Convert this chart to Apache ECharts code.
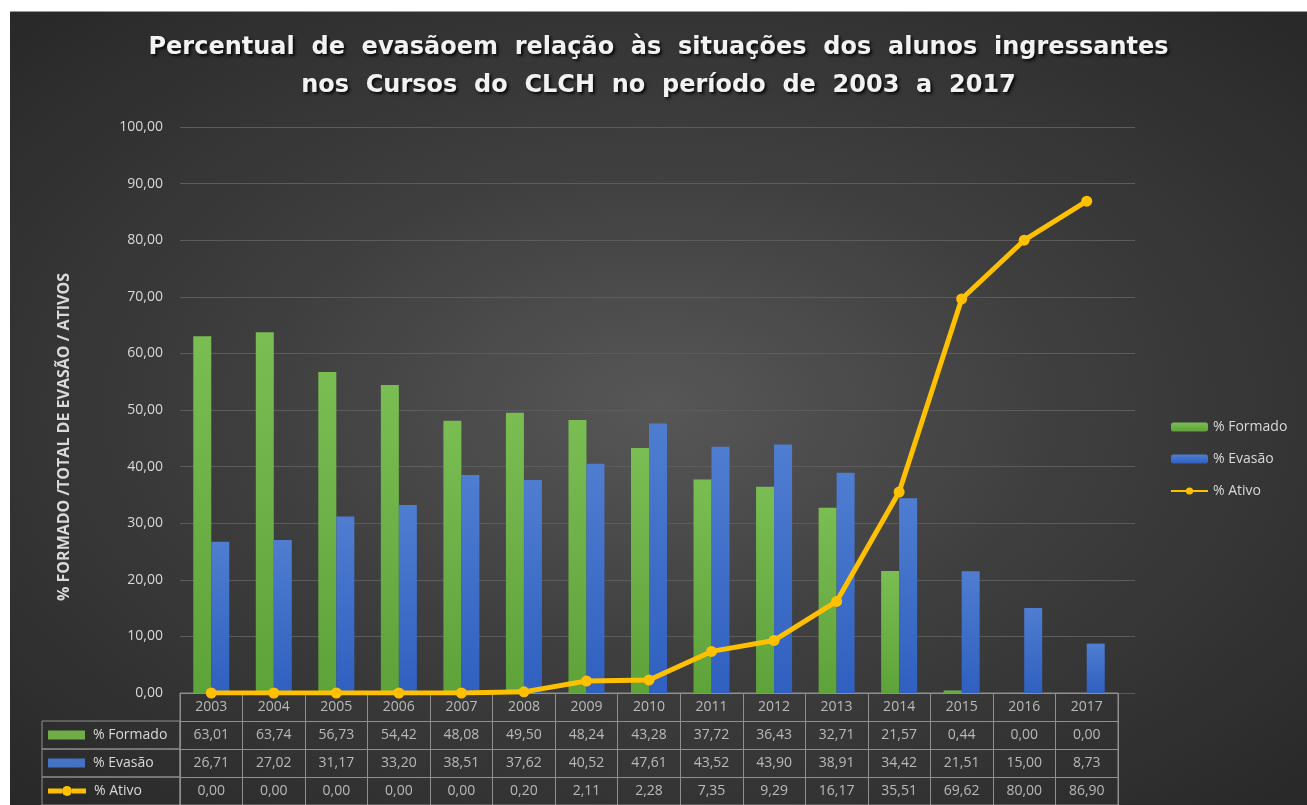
<!DOCTYPE html>
<html>
<head>
<meta charset="utf-8">
<script src="https://cdn.jsdelivr.net/npm/echarts@6/dist/echarts.min.js"></script>
<style>
  html, body { margin: 0; padding: 0; background: #ffffff; }
  #chart {
    position: absolute; left: 10px; top: 11px; width: 1297px; height: 794px;
    border-top: 1px solid #9a9a9a; box-sizing: border-box;
    background: radial-gradient(ellipse at 50% 50%, #575757 0%, #3e3e3e 45%, #282828 100%);
  }
</style>
</head>
<body>
<div id="chart"></div>
<script>
const years = ['2003', '2004', '2005', '2006', '2007', '2008', '2009', '2010', '2011', '2012', '2013', '2014', '2015', '2016', '2017']
const formado = [63.01, 63.74, 56.73, 54.42, 48.08, 49.50, 48.24, 43.28, 37.72, 36.43, 32.71, 21.57, 0.44, 0.00, 0.00]
const evasao = [26.71, 27.02, 31.17, 33.20, 38.51, 37.62, 40.52, 47.61, 43.52, 43.90, 38.91, 34.42, 21.51, 15.00, 8.73]
const ativo = [0.00, 0.00, 0.00, 0.00, 0.00, 0.20, 2.11, 2.28, 7.35, 9.29, 16.17, 35.51, 69.62, 80.00, 86.90]
const seriesNames = ['% Formado', '% Evasão', '% Ativo']

const textColor = '#d9d9d9'
const lineColor = '#8f8f8f'
const fmt = v => v.toFixed(2).replace('.', ',')

// layout (chart coordinates)
const plotLeft = 170
const plotTop = 115
const plotWidth = 938
const plotHeight = 566
const rowH = 28
const tableTop = plotTop + plotHeight
const headerLeft = 32

// cells of the data table, one label per category and row
const tableRows = [years, formado.map(fmt), evasao.map(fmt), ativo.map(fmt)]
const tableCells = []
tableRows.forEach((row, r) => {
  row.forEach((txt, i) => tableCells.push([i, r, txt]))
})

const headerBoxes = [1, 2, 3].map(r => ({
  type: 'rect',
  shape: { x: headerLeft, y: tableTop + r * rowH, width: plotLeft - headerLeft, height: rowH },
  style: { fill: 'none', stroke: lineColor, lineWidth: 1 },
  silent: true
}))

const chart = echarts.init(document.getElementById('chart'))
chart.setOption({
  backgroundColor: 'transparent',
  animation: false,
  title: {
    text: 'Percentual  de  evasãoem  relação  às  situações  dos  alunos  ingressantes\nnos  Cursos  do  CLCH  no  período  de  2003  a  2017',
    left: 'center',
    top: 12,
    textStyle: {
      color: '#f2f2f2',
      fontFamily: 'DejaVu Sans',
      fontWeight: 'bold',
      fontSize: 24,
      lineHeight: 38,
      textShadowColor: 'rgba(0,0,0,0.85)',
      textShadowBlur: 3,
      textShadowOffsetX: 2,
      textShadowOffsetY: 2
    }
  },
  legend: {
    data: seriesNames,
    orient: 'vertical',
    left: 1155,
    top: 403,
    itemWidth: 37,
    itemHeight: 9,
    itemGap: 18,
    textStyle: { color: textColor, fontSize: 14, fontFamily: 'Open Sans' }
  },
  graphic: headerBoxes,
  grid: [
    { left: plotLeft, top: plotTop, width: 955, height: plotHeight },
    { left: plotLeft, top: plotTop, width: plotWidth, height: plotHeight },
    { left: plotLeft, top: tableTop, width: plotWidth, height: rowH * 4, show: true, borderColor: lineColor, borderWidth: 1 }
  ],
  xAxis: [
    { gridIndex: 0, type: 'category', data: years, show: false },
    {
      gridIndex: 1,
      type: 'category',
      data: years,
      axisLine: { show: false },
      axisTick: { show: false },
      axisLabel: { show: false }
    },
    {
      gridIndex: 2,
      type: 'category',
      data: years,
      axisLine: { show: false },
      axisTick: { show: false },
      axisLabel: { show: false },
      splitLine: { show: true, interval: 0, lineStyle: { color: lineColor, width: 1 } }
    }
  ],
  yAxis: [
    {
      gridIndex: 0,
      type: 'value',
      min: 0,
      max: 100,
      interval: 10,
      name: '% FORMADO /TOTAL DE EVASÃO / ATIVOS',
      nameLocation: 'middle',
      nameGap: 108,
      nameTextStyle: { color: textColor, fontSize: 16, fontWeight: 'bold', fontFamily: 'Open Sans', padding: [0, 54, 0, 0] },
      axisLine: { show: false },
      axisTick: { show: false },
      axisLabel: { color: textColor, fontSize: 14, fontFamily: 'Open Sans', margin: 17, formatter: v => fmt(v) },
      splitLine: { lineStyle: { color: '#5c5c5c', width: 1 } }
    },
    { gridIndex: 1, type: 'value', min: 0, max: 100, interval: 10, show: false },
    {
      gridIndex: 2,
      type: 'category',
      inverse: true,
      data: ['', '% Formado', '% Evasão', '% Ativo'],
      axisLine: { show: false },
      axisTick: { show: false },
      splitLine: { show: true, interval: 0, lineStyle: { color: lineColor, width: 1 } },
      axisLabel: {
        align: 'left',
        margin: plotLeft - headerLeft - 6,
        interval: 0,
        formatter: (v, i) => {
          if (i === 1) return '{g|}{t|' + v + '}'
          if (i === 2) return '{b|}{t|' + v + '}'
          if (i === 3) return '{l|}{d|}{l|}{t|' + v + '}'
          return ''
        },
        rich: {
          g: { width: 37, height: 9, backgroundColor: '#70ad47' },
          b: { width: 37, height: 9, backgroundColor: '#4472c4' },
          l: { width: 14, height: 5, backgroundColor: '#ffc000' },
          d: { width: 10, height: 10, borderRadius: 5, backgroundColor: '#ffc000' },
          t: { color: textColor, fontSize: 14, fontFamily: 'Open Sans', padding: [0, 0, 0, 8] }
        }
      }
    }
  ],
  series: [
    {
      name: '% Formado',
      type: 'bar',
      xAxisIndex: 1,
      yAxisIndex: 1,
      barWidth: 18,
      barGap: 0,
      itemStyle: {
        color: {
          type: 'linear', x: 0, y: 0, x2: 0, y2: 1,
          colorStops: [{ offset: 0, color: '#7abd53' }, { offset: 1, color: '#5ea23a' }]
        }
      },
      data: formado
    },
    {
      name: '% Evasão',
      type: 'bar',
      xAxisIndex: 1,
      yAxisIndex: 1,
      barWidth: 18,
      barGap: 0,
      itemStyle: {
        color: {
          type: 'linear', x: 0, y: 0, x2: 0, y2: 1,
          colorStops: [{ offset: 0, color: '#4f7dd0' }, { offset: 1, color: '#3060c0' }]
        }
      },
      data: evasao
    },
    {
      name: '% Ativo',
      type: 'line',
      xAxisIndex: 1,
      yAxisIndex: 1,
      symbol: 'circle',
      symbolSize: 11,
      z: 5,
      lineStyle: { color: '#ffc000', width: 5 },
      itemStyle: { color: '#ffc000' },
      data: ativo
    },
    {
      name: 'tabela',
      type: 'scatter',
      xAxisIndex: 2,
      yAxisIndex: 2,
      symbolSize: 0.1,
      silent: true,
      label: {
        show: true,
        position: 'inside',
        color: textColor,
        fontSize: 14,
        fontFamily: 'Open Sans',
        formatter: p => p.value[2]
      },
      data: tableCells
    }
  ]
})
</script>
</body>
</html>
